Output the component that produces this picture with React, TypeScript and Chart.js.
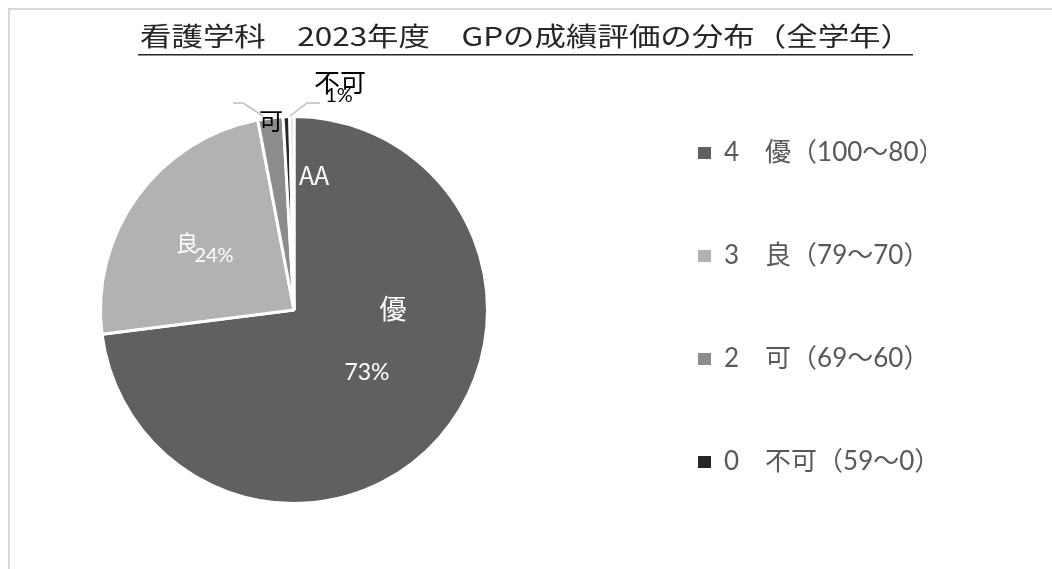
import { useEffect, useRef } from "react";
import { Chart, registerables } from "chart.js";

Chart.register(...registerables);

const titleText = "看護学科　2023年度　GPの成績評価の分布（全学年）";
const categories = ["優", "良", "可", "不可", "AA"];
const legendLabels = [
  "4　優（100～80）",
  "3　良（79～70）",
  "2　可（69～60）",
  "0　不可（59～0）",
];
const shares = [73.0, 24.0, 2.1, 0.55, 0.35];
const sliceColors = ["#606060", "#b2b2b2", "#8c8c8c", "#262626", "#d4d4d4"];

const CJK = "'Noto Sans CJK JP'";
const MIX = "Lato, 'Noto Sans CJK JP'";

// canvas is shifted left so the pie can sit where the reference has it
const SHIFT = 38;
const CANVAS_W = 1052 + SHIFT;

type LabelSpec = {
  i: number;
  kind: "name" | "pct";
  dx: number;
  dy: number;
  size: number;
  color: string;
};

const labelSpecs: LabelSpec[] = [
  { i: 0, kind: "name", dx: 99, dy: -1, size: 27, color: "#ffffff" },
  { i: 0, kind: "pct", dx: 73, dy: 63, size: 23, color: "#ffffff" },
  { i: 1, kind: "name", dx: -107, dy: -67, size: 22, color: "#ffffff" },
  { i: 1, kind: "pct", dx: -80, dy: -54, size: 20, color: "#ffffff" },
  { i: 2, kind: "name", dx: -23, dy: -189, size: 24, color: "#000000" },
  { i: 3, kind: "name", dx: 46, dy: -228, size: 26, color: "#000000" },
  { i: 3, kind: "pct", dx: 45, dy: -214, size: 20, color: "#000000" },
  { i: 4, kind: "name", dx: 20, dy: -135, size: 25, color: "#ffffff" },
];

const leaderLines: number[][][] = [
  [
    [-61, -207],
    [-51, -207],
    [-31, -194],
  ],
  [
    [-4, -194],
    [13, -207],
    [26, -207],
  ],
];

const framePlugin = {
  id: "frame",
  beforeDraw(chart: any) {
    const ctx = chart.ctx;
    ctx.save();
    ctx.strokeStyle = "#d9d9d9";
    ctx.lineWidth = 2;
    ctx.strokeRect(9 + SHIFT, 9, 1200, 700);
    ctx.restore();
  },
  afterDraw(chart: any) {
    const ctx = chart.ctx;
    ctx.save();
    ctx.font = `26px ${CJK}`;
    const w = ctx.measureText(titleText).width;
    const left = 140 + SHIFT;
    const target = 772;
    ctx.translate(left, 36);
    ctx.scale(target / w, 1);
    ctx.textBaseline = "middle";
    ctx.textAlign = "left";
    ctx.fillStyle = "#262626";
    ctx.fillText(titleText, 0, 0);
    ctx.restore();
    ctx.save();
    ctx.fillStyle = "#262626";
    ctx.fillRect(138 + SHIFT, 54, 775, 1.5);
    ctx.restore();
  },
};

const labelPlugin = {
  id: "sliceLabels",
  afterDatasetsDraw(chart: any) {
    const ctx = chart.ctx;
    const meta = chart.getDatasetMeta(0);
    const data = chart.data.datasets[0].data as number[];
    const total = data.reduce((a, b) => a + b, 0);
    const c = meta.data[0];
    const cx = c.x;
    const cy = c.y;
    ctx.save();
    ctx.strokeStyle = "#bfbfbf";
    ctx.lineWidth = 1.5;
    leaderLines.forEach((pts) => {
      ctx.beginPath();
      pts.forEach(([px, py], k) => {
        if (k === 0) ctx.moveTo(cx + px, cy + py);
        else ctx.lineTo(cx + px, cy + py);
      });
      ctx.stroke();
    });
    ctx.textAlign = "center";
    ctx.textBaseline = "middle";
    labelSpecs.forEach((s) => {
      const text =
        s.kind === "name"
          ? categories[s.i]
          : Math.round((data[s.i] / total) * 100) + "%";
      ctx.font = `${s.size}px ${s.kind === "name" ? CJK : MIX}`;
      ctx.fillStyle = s.color;
      ctx.fillText(text, cx + s.dx, cy + s.dy);
    });
    ctx.restore();
  },
};

export default function App() {
  const ref = useRef<HTMLCanvasElement | null>(null);
  useEffect(() => {
    if (!ref.current) return;
    const chart = new Chart(ref.current, {
      type: "pie",
      data: {
        labels: categories,
        datasets: [
          {
            data: shares,
            backgroundColor: sliceColors,
            borderColor: "#ffffff",
            borderWidth: 3,
            radius: 193.5,
          } as any,
        ],
      },
      options: {
        responsive: false,
        animation: false,
        events: [],
        layout: { padding: { left: 0, right: 126, top: 51, bottom: 0 } },
        plugins: {
          title: { display: false },
          tooltip: { enabled: false },
          legend: {
            position: "right",
            align: "center",
            maxWidth: 300,
            labels: {
              boxWidth: 13,
              boxHeight: 12,
              padding: 72,
              color: "#595959",
              font: { family: MIX, size: 26, lineHeight: "15.5px" } as any,
              generateLabels: () =>
                legendLabels.map((t, i) => ({
                  text: [t, ""] as any,
                  fillStyle: sliceColors[i],
                  strokeStyle: "rgba(0,0,0,0)",
                  lineWidth: 0,
                  hidden: false,
                  index: i,
                  fontColor: "#595959",
                })),
            },
          },
        },
      },
      plugins: [framePlugin, labelPlugin],
    });
    return () => chart.destroy();
  }, []);
  return (
    <div
      style={{
        position: "fixed",
        left: 0,
        top: 0,
        width: 1052,
        height: 569,
        overflow: "hidden",
        background: "#ffffff",
      }}
    >
      <canvas
        ref={ref}
        width={CANVAS_W}
        height={569}
        style={{
          display: "block",
          width: CANVAS_W,
          height: 569,
          marginLeft: -SHIFT,
        }}
      />
    </div>
  );
}
